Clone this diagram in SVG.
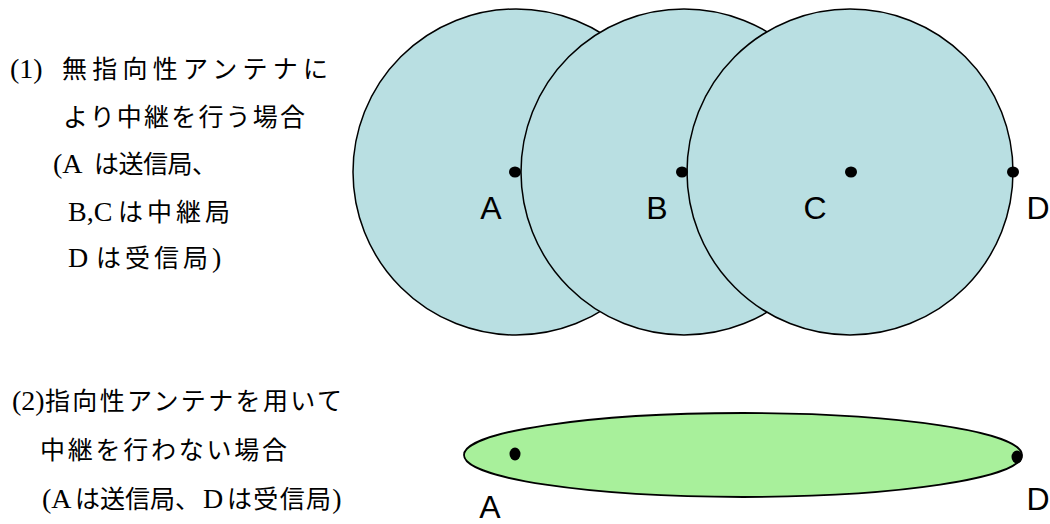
<svg xmlns="http://www.w3.org/2000/svg" width="1050" height="524" viewBox="0 0 1050 524">
<style>
.t{font-family:"Liberation Serif","Noto Sans CJK JP",serif;font-size:25px;fill:#000}
.l{font-family:"Liberation Serif",serif;font-size:28px}
.lbl{font-family:"Liberation Sans",Arial,sans-serif;font-size:32px;fill:#000}
.cir{fill:#b9dfe2;stroke:#000;stroke-width:1.5}
.ell{fill:#a8f09b;stroke:#000;stroke-width:1.8}
.dot{fill:#000}
</style>
<rect width="1050" height="524" fill="#fff"/>
<g id="caption1">
<text class="t" y="78"><tspan class="l" x="10">(1)</tspan><tspan x="62" textLength="266" lengthAdjust="spacing">無指向性アンテナに</tspan></text>
<text class="t" x="63" y="126" textLength="242" lengthAdjust="spacing">より中継を行う場合</text>
<text class="t" y="173"><tspan class="l" x="53">(A</tspan><tspan x="94" textLength="123" lengthAdjust="spacing">は送信局、</tspan></text>
<text class="t" y="221"><tspan class="l" x="68">B,C</tspan><tspan x="118" textLength="112" lengthAdjust="spacing">は中継局</tspan></text>
<text class="t" y="267"><tspan class="l" x="68">D</tspan><tspan x="96" textLength="112" lengthAdjust="spacing">は受信局</tspan><tspan class="l">)</tspan></text>
</g>
<g id="caption2">
<text class="t" y="410"><tspan class="l" x="12">(2)</tspan><tspan x="45" textLength="297" lengthAdjust="spacing">指向性アンテナを用いて</tspan></text>
<text class="t" x="40" y="459" textLength="247" lengthAdjust="spacing">中継を行わない場合</text>
<text class="t" y="508"><tspan class="l" x="42">(A</tspan><tspan x="75" textLength="125" lengthAdjust="spacing">は送信局、</tspan><tspan class="l" x="203">D</tspan><tspan x="227" textLength="104" lengthAdjust="spacing">は受信局</tspan><tspan class="l">)</tspan></text>
</g>
<g id="circleA"><circle class="cir" cx="516" cy="172" r="163"/></g>
<g id="circleB"><circle class="cir" cx="684" cy="172" r="163"/></g>
<g id="circleC"><circle class="cir" cx="850" cy="172" r="163"/></g>
<g id="nodeA"><ellipse class="dot" cx="515" cy="172" rx="6" ry="5.5"/><text class="lbl" x="491" y="219" text-anchor="middle">A</text></g>
<g id="nodeB"><ellipse class="dot" cx="682" cy="172" rx="6" ry="5.5"/><text class="lbl" x="657" y="219" text-anchor="middle">B</text></g>
<g id="nodeC"><ellipse class="dot" cx="851" cy="172" rx="6" ry="5.5"/><text class="lbl" x="815" y="219" text-anchor="middle">C</text></g>
<g id="nodeD"><ellipse class="dot" cx="1013" cy="172" rx="6" ry="5.5"/><text class="lbl" x="1038" y="219" text-anchor="middle">D</text></g>
<g id="beam"><ellipse class="ell" cx="743" cy="455" rx="279" ry="42"/></g>
<g id="nodeA2"><ellipse class="dot" cx="515" cy="454" rx="5.5" ry="6.5"/><text class="lbl" x="490" y="518" text-anchor="middle">A</text></g>
<g id="nodeD2"><ellipse class="dot" cx="1017" cy="457" rx="5.5" ry="6.5"/><text class="lbl" x="1038" y="510" text-anchor="middle">D</text></g>
<g id="connectors"></g>
</svg>
